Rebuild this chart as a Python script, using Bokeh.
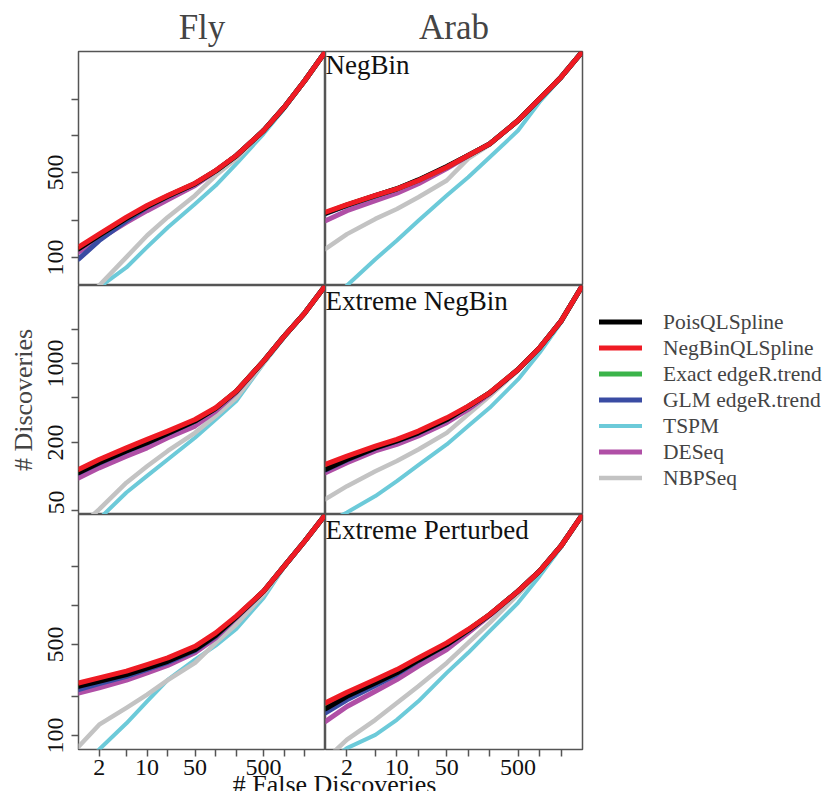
from bokeh.plotting import figure
from bokeh.models import Range1d, FixedTicker, Label, Legend, LegendItem
from bokeh.layouts import row, column
from bokeh.embed import file_html
from bokeh.resources import INLINE

FONT = "Liberation Serif"

# ---------------- data ----------------
fd = [1, 2, 5, 10, 20, 50, 100, 200, 500, 1000, 2000, 4000]

methods = ["PoisQLSpline", "NegBinQLSpline", "Exact edgeR.trend",
           "GLM edgeR.trend", "TSPM", "DESeq", "NBPSeq"]
colors = {"PoisQLSpline": "#000000", "NegBinQLSpline": "#ef1b24",
          "Exact edgeR.trend": "#3bb44a", "GLM edgeR.trend": "#3a4ca3",
          "TSPM": "#6ccad9", "DESeq": "#b04fa6", "NBPSeq": "#c3c3c3"}
widths = {"PoisQLSpline": 5, "NegBinQLSpline": 5, "Exact edgeR.trend": 5,
          "GLM edgeR.trend": 5, "TSPM": 4, "DESeq": 5, "NBPSeq": 4.5}
draw_order = ["TSPM", "NBPSeq", "DESeq", "GLM edgeR.trend",
              "Exact edgeR.trend", "PoisQLSpline", "NegBinQLSpline"]

fly_negbin = {
    "PoisQLSpline":      [118, 152, 210, 263, 320, 405, 515, 688, 1105, 1720, 2850, 4940],
    "NegBinQLSpline":    [122, 156, 215, 268, 324, 409, 519, 690, 1107, 1722, 2856, 4940],
    "Exact edgeR.trend": [119, 153, 211, 264, 321, 406, 516, 688, 1105, 1720, 2850, 4940],
    "GLM edgeR.trend":   [97, 138, 201, 260, 318, 404, 515, 688, 1105, 1720, 2850, 4940],
    "TSPM":              [38, 57, 83, 122, 177, 276, 391, 589, 1040, 1670, 2830, 4940],
    "DESeq":             [111, 142, 195, 243, 298, 391, 513, 686, 1105, 1720, 2850, 4940],
    "NBPSeq":            [40, 59, 101, 152, 215, 324, 472, 648, 1100, 1715, 2850, 4940],
}
arab_negbin = {
    "PoisQLSpline":      [232, 270, 323, 368, 435, 560, 692, 861, 1339, 2018, 3041, 4940],
    "NegBinQLSpline":    [236, 273, 324, 367, 430, 553, 690, 861, 1339, 2018, 3041, 4940],
    "Exact edgeR.trend": [233, 271, 323, 367, 432, 556, 690, 861, 1339, 2018, 3041, 4940],
    "GLM edgeR.trend":   [230, 269, 321, 366, 430, 553, 690, 861, 1339, 2018, 3041, 4940],
    "TSPM":              [40, 59, 97, 138, 201, 324, 458, 668, 1107, 1900, 3000, 4940],
    "DESeq":             [201, 243, 294, 338, 404, 540, 685, 858, 1339, 2018, 3041, 4940],
    "NBPSeq":            [118, 156, 208, 251, 313, 430, 650, 850, 1335, 2015, 3041, 4940],
}
fly_extreme_negbin = {
    "PoisQLSpline":      [108, 132, 168, 199, 240, 309, 400, 566, 1049, 1746, 2805, 4900],
    "NegBinQLSpline":    [115, 141, 179, 213, 252, 319, 405, 569, 1049, 1746, 2805, 4900],
    "Exact edgeR.trend": [110, 135, 171, 203, 244, 312, 402, 567, 1049, 1746, 2805, 4900],
    "GLM edgeR.trend":   [107, 131, 167, 198, 239, 308, 399, 566, 1048, 1746, 2805, 4900],
    "TSPM":              [30, 42, 72, 101, 141, 220, 319, 464, 1000, 1700, 2790, 4900],
    "DESeq":             [97, 119, 151, 179, 220, 279, 378, 555, 1045, 1746, 2805, 4900],
    "NBPSeq":            [35, 51, 88, 123, 168, 243, 342, 497, 1013, 1730, 2800, 4900],
}
arab_extreme_negbin = {
    "PoisQLSpline":      [115, 141, 179, 206, 243, 319, 415, 548, 885, 1377, 2371, 4900],
    "NegBinQLSpline":    [128, 151, 185, 213, 252, 330, 419, 550, 885, 1377, 2371, 4900],
    "Exact edgeR.trend": [118, 143, 181, 208, 246, 322, 416, 549, 885, 1377, 2371, 4900],
    "GLM edgeR.trend":   [114, 140, 178, 205, 242, 318, 414, 548, 885, 1377, 2371, 4900],
    "TSPM":              [38, 48, 67, 91, 126, 192, 279, 405, 722, 1243, 2300, 4900],
    "DESeq":             [108, 132, 168, 192, 228, 299, 392, 540, 880, 1377, 2371, 4900],
    "NBPSeq":            [63, 82, 111, 137, 173, 243, 354, 514, 870, 1370, 2371, 4900],
}
fly_extreme_perturbed = {
    "PoisQLSpline":      [239, 261, 294, 330, 372, 457, 587, 815, 1285, 2006, 3126, 5000],
    "NegBinQLSpline":    [253, 277, 312, 351, 395, 485, 615, 827, 1288, 2006, 3126, 5000],
    "Exact edgeR.trend": [242, 265, 298, 335, 378, 462, 592, 818, 1285, 2006, 3126, 5000],
    "GLM edgeR.trend":   [225, 250, 285, 322, 365, 450, 580, 812, 1285, 2006, 3126, 5000],
    "TSPM":              [50, 78, 124, 183, 268, 383, 491, 660, 1143, 1980, 3126, 5000],
    "DESeq":             [212, 232, 266, 303, 345, 432, 563, 800, 1280, 2006, 3126, 5000],
    "NBPSeq":            [82, 121, 163, 206, 266, 361, 515, 713, 1213, 1990, 3126, 5000],
}
arab_extreme_perturbed = {
    "PoisQLSpline":      [160, 200, 253, 303, 379, 500, 645, 848, 1288, 1837, 2863, 5000],
    "NegBinQLSpline":    [178, 215, 269, 321, 395, 515, 653, 852, 1288, 1837, 2863, 5000],
    "Exact edgeR.trend": [163, 203, 256, 306, 382, 503, 647, 849, 1288, 1837, 2863, 5000],
    "GLM edgeR.trend":   [149, 188, 242, 296, 375, 497, 643, 847, 1288, 1837, 2863, 5000],
    "TSPM":              [60, 80, 101, 132, 183, 303, 432, 634, 1047, 1679, 2800, 5000],
    "DESeq":             [128, 167, 219, 269, 341, 457, 615, 835, 1285, 1837, 2863, 5000],
    "NBPSeq":            [65, 93, 132, 178, 239, 361, 515, 735, 1213, 1820, 2863, 5000],
}

col_titles = ["Fly", "Arab"]
row_titles = ["NegBin", "Extreme NegBin", "Extreme Perturbed"]
x_axis_title = "# False Discoveries"
y_axis_title = "# Discoveries"
panels = [[fly_negbin, arab_negbin],
          [fly_extreme_negbin, arab_extreme_negbin],
          [fly_extreme_perturbed, arab_extreme_perturbed]]

x_lim = (1, 4000)
y_lims = [(59, 4940), (46, 4900), (78, 5000)]
x_ticks = [2, 5, 10, 20, 50, 100, 200, 500, 1000, 2000]
x_labeled = [2, 10, 50, 500]
y_ticks = [[100, 200, 500, 1000, 2000],
           [50, 200, 500, 1000, 2000],
           [100, 200, 500, 1000, 2000]]
y_labeled = [[100, 500], [50, 200, 1000], [100, 500]]

# ---------------- layout ----------------
LEFT_W, RIGHT_W = 247, 257
FRAME_H = [234, 229, 235]
AXIS_COL = "#555555"
LABEL_DY = [2, 0, 0]


def style_axis(ax, ticks, labeled):
    ax.ticker = FixedTicker(ticks=ticks, minor_ticks=[])
    ax.major_label_overrides = {t: (str(t) if t in labeled else "") for t in ticks}
    ax.major_label_text_font = FONT
    ax.major_label_text_font_size = "24px"
    ax.major_label_text_color = "#111111"
    ax.major_tick_out = 7
    ax.major_tick_in = 0
    ax.major_tick_line_color = AXIS_COL
    ax.major_tick_line_width = 1.5
    ax.minor_tick_line_color = None
    ax.axis_line_color = None


renderers_for_legend = {}
figs = []
for r in range(3):
    row_figs = []
    for c in range(2):
        left = c == 0
        bottom = r == 2
        p = figure(x_axis_type="log", y_axis_type="log",
                   x_range=Range1d(*x_lim), y_range=Range1d(*y_lims[r]),
                   frame_width=LEFT_W if left else RIGHT_W,
                   frame_height=FRAME_H[r],
                   x_axis_location="below" if bottom else None,
                   y_axis_location="left" if left else None,
                   output_backend="svg", toolbar_location=None,
                   min_border_left=78 if left else 0,
                   min_border_right=0 if left else 245,
                   min_border_top=51 if r == 0 else 0,
                   min_border_bottom=0,
                   background_fill_color="white", border_fill_color="white")
        p.outline_line_color = AXIS_COL
        p.outline_line_width = 1.5
        p.xgrid.grid_line_color = None
        p.ygrid.grid_line_color = None
        if r == 0:
            p.title.text = col_titles[c]
            p.title.align = "center"
            p.title.text_font = FONT
            p.title.text_font_size = "35px"
            p.title.text_font_style = "normal"
            p.title.standoff = 9
        if left:
            style_axis(p.yaxis[0], y_ticks[r], y_labeled[r])
            p.yaxis[0].major_label_orientation = "vertical"
            p.yaxis[0].major_label_standoff = 8
            if r == 1:
                p.yaxis[0].axis_label = y_axis_title
                p.yaxis[0].axis_label_text_font = FONT
                p.yaxis[0].axis_label_text_font_size = "26px"
                p.yaxis[0].axis_label_text_font_style = "normal"
                p.yaxis[0].axis_label_standoff = 8
        if bottom:
            style_axis(p.xaxis[0], x_ticks, x_labeled)
            p.xaxis[0].major_label_standoff = 3

        data = panels[r][c]
        for m in draw_order:
            rend = p.line(fd, data[m], line_color=colors[m], line_width=widths[m],
                          line_cap="round", line_join="round")
            if r == 1 and c == 1:
                renderers_for_legend[m] = rend
        if not left:
            p.add_layout(Label(x=1, y=y_lims[r][1], text=row_titles[r],
                               text_font=FONT, text_font_size="27px",
                               text_baseline="top", text_align="left",
                               x_offset=0, y_offset=LABEL_DY[r], text_color="#111111"))
        if r == 1 and c == 1:
            legend = Legend(items=[LegendItem(label=m, renderers=[renderers_for_legend[m]])
                                   for m in methods],
                            location="center_left")
            legend.label_text_font = FONT
            legend.label_text_font_size = "21.5px"
            legend.glyph_width = 43
            legend.glyph_height = 24
            legend.label_height = 24
            legend.label_standoff = 21
            legend.spacing = 1
            legend.padding = 10
            legend.margin = 17
            legend.border_line_color = None
            legend.background_fill_alpha = 0
            p.add_layout(legend, "right")
        row_figs.append(p)
    figs.append(row(*row_figs, spacing=0))

# transparent strip holding the shared x-axis title, centred under both columns;
# it slightly overlaps the tick-label band above it
footer = figure(width=827, height=40, x_range=Range1d(0, 827), y_range=Range1d(0, 40),
                x_axis_location=None, y_axis_location=None,
                output_backend="svg", toolbar_location=None,
                min_border=0, margin=(-26, 0, 0, 0))
footer.outline_line_color = None
footer.background_fill_alpha = 0
footer.border_fill_alpha = 0
footer.xgrid.grid_line_color = None
footer.ygrid.grid_line_color = None
footer.add_layout(Label(x=334, y=7, text=x_axis_title, text_font=FONT,
                        text_font_size="26px", text_align="center",
                        text_baseline="alphabetic", text_color="#111111"))

layout = column(*figs, footer, spacing=0)

open("out.html", "w").write(file_html(layout, INLINE))
